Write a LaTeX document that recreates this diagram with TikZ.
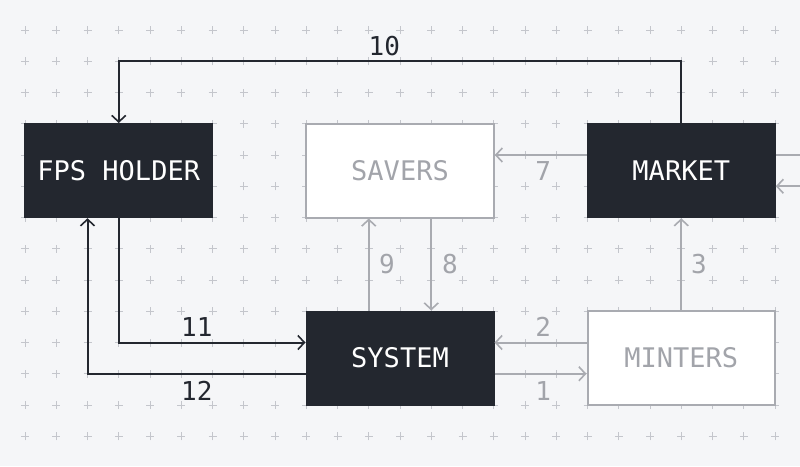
\documentclass[tikz,border=0pt]{standalone}
\usepackage{fontspec}
\newfontfamily\pixmono{DejaVu Sans Mono}
\usetikzlibrary{arrows.meta}
\definecolor{dk}{HTML}{23272F}
\definecolor{gy}{HTML}{A9ABB1}
\definecolor{gytext}{HTML}{A2A4AA}
\definecolor{bg}{HTML}{F5F6F8}
\definecolor{crs}{HTML}{C4C6CC}
\tikzset{
  boxbase/.style={rectangle, minimum width=187.5pt, minimum height=93.75pt, inner sep=0pt,
    font=\pixmono\fontsize{27}{27}\selectfont},
  darkbox/.style={boxbase, fill=dk, draw=dk, line width=1.5pt, text=white},
  lightbox/.style={boxbase, fill=white, draw=gy, line width=2pt, text=gytext},
  tip/.style={-{Straight Barb[length=6.5pt,width=14pt,line width=1.6pt]}},
  dkline/.style={draw=dk, line width=2pt},
  gyline/.style={draw=gy, line width=2pt},
  dklabel/.style={text=dk, font=\pixmono\fontsize{26}{26}\selectfont, inner sep=0pt},
  gylabel/.style={text=gytext, font=\pixmono\fontsize{26}{26}\selectfont, inner sep=0pt},
}
\begin{document}
\begin{tikzpicture}[x=31.25pt, y=-31.25pt]
\useasboundingbox[fill=bg] (-0.8,-0.96) rectangle (24.8,13.952);
\clip (-0.8,-0.96) rectangle (24.8,13.952);
% grid of crosses
\foreach \i in {0,...,24}{
  \foreach \j in {0,...,13}{
    \draw[crs, line width=0.8pt] (\i,\j) ++(-4pt,0) -- ++(8pt,0) (\i,\j) ++(0,-4pt) -- ++(0,8pt);
  }
}
% boxes
\node[darkbox]  (fps)     at (3,4.5)   {FPS HOLDER};
\node[lightbox] (savers)  at (12,4.5)  {SAVERS};
\node[darkbox]  (market)  at (21,4.5)  {MARKET};
\node[darkbox]  (system)  at (12,10.5) {SYSTEM};
\node[lightbox] (minters) at (21,10.5) {MINTERS};
\coordinate (rout) at (25.5,4);
\coordinate (rin)  at (25.5,5);
% connectors
\draw[dkline, tip] (market.north) -- ++(0,-2) -| (fps.north);
\draw[gyline, tip] ([yshift=15.625pt]market.west) -- ([yshift=15.625pt]savers.east);
\draw[gyline] (market.east |- rout) -- (rout);
\draw[gyline, tip] (rin) -- (market.east |- rin);
\draw[gyline, tip] (minters.north) -- (market.south);
\draw[gyline, tip] ([xshift=-31.25pt]system.north) -- ([xshift=-31.25pt]savers.south);
\draw[gyline, tip] ([xshift=31.25pt]savers.south) -- ([xshift=31.25pt]system.north);
\draw[gyline, tip] ([yshift=15.625pt]minters.west) -- ([yshift=15.625pt]system.east);
\draw[gyline, tip] ([yshift=-15.625pt]system.east) -- ([yshift=-15.625pt]minters.west);
\draw[dkline, tip] (fps.south) |- ([yshift=15.625pt]system.west);
\draw[dkline, tip] ([yshift=-15.625pt]system.west) -| ([xshift=-31.25pt]fps.south);
% labels
\node[dklabel] (l10) at (11.5,0.5)  {10};
\node[gylabel] (l7)  at (16.58,4.5) {7};
\node[gylabel] (l3)  at (21.57,7.5) {3};
\node[gylabel] (l9)  at (11.58,7.5) {9};
\node[gylabel] (l8)  at (13.6,7.5)  {8};
\node[gylabel] (l2)  at (16.58,9.5) {2};
\node[gylabel] (l1)  at (16.58,11.55) {1};
\node[dklabel] (l11) at (5.5,9.5)   {11};
\node[dklabel] (l12) at (5.5,11.55) {12};
\end{tikzpicture}
\end{document}
